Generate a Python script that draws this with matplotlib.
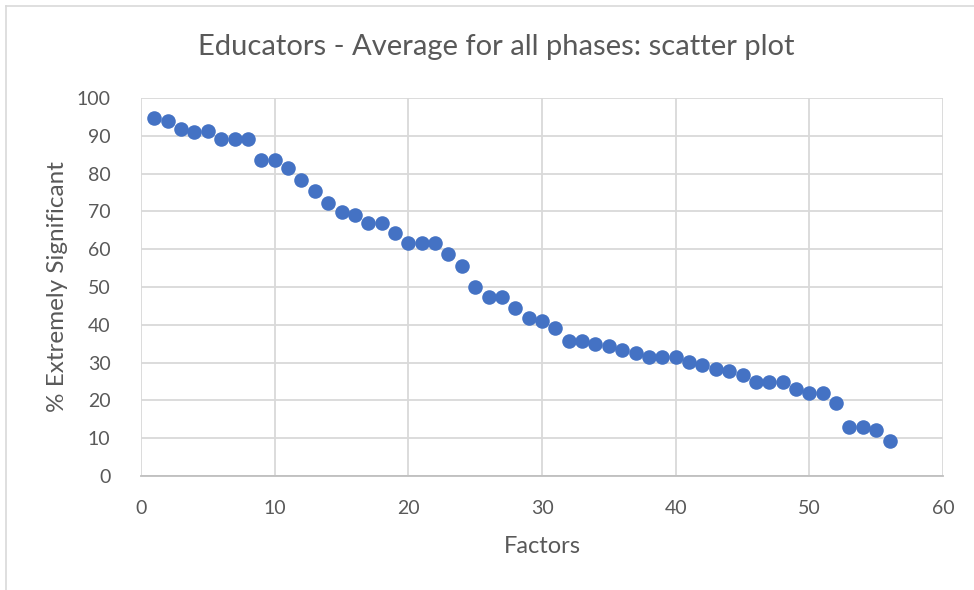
import matplotlib
matplotlib.use("Agg")
import matplotlib.pyplot as plt
from matplotlib.lines import Line2D

plt.rcParams['font.family'] = ['Lato', 'DejaVu Sans']

# Factor index and the share of educators rating each factor "extremely significant"
factors = list(range(1, 57))
pct_extremely_significant = [
    94.6, 94.0, 91.7, 91.0, 91.2, 89.1, 89.1, 89.1, 83.6, 83.6,
    81.5, 78.3, 75.3, 72.3, 69.8, 69.1, 66.9, 66.9, 64.4, 61.6,
    61.6, 61.6, 58.7, 55.6, 49.9, 47.3, 47.3, 44.4, 41.7, 41.1,
    39.1, 35.8, 35.8, 34.9, 34.4, 33.3, 32.6, 31.6, 31.6, 31.4,
    30.2, 29.3, 28.4, 27.7, 26.6, 24.9, 24.9, 24.9, 23.1, 22.0,
    22.0, 19.4, 12.9, 12.9, 12.2, 9.2,
]
x_ticks = [0, 10, 20, 30, 40, 50, 60]
y_ticks = [0, 10, 20, 30, 40, 50, 60, 70, 80, 90, 100]

W, H = 974, 590
fig = plt.figure(figsize=(W / 100, H / 100), dpi=100)
ax = fig.add_axes([141 / W, 1 - 476 / H, (943 - 141) / W, (476 - 98) / H])

text_col = '#595959'
grid_col = '#D9D9D9'

ax.scatter(factors, pct_extremely_significant, s=110, color='#4472C4',
           linewidths=0, zorder=3, clip_on=False)

ax.set_xlim(0, 60)
ax.set_ylim(0, 100)
ax.set_xticks(x_ticks)
ax.set_yticks(y_ticks)
ax.grid(True, color=grid_col, linewidth=1.3, zorder=0)
ax.set_axisbelow(True)
for side in ('top', 'right', 'left'):
    ax.spines[side].set_visible(False)
ax.spines['bottom'].set_color('#BFBFBF')
ax.spines['bottom'].set_linewidth(1.3)
ax.tick_params(length=0, labelsize=14, colors=text_col)
ax.tick_params(axis='y', pad=22)
ax.tick_params(axis='x', pad=17)

ax.set_xlabel('Factors', fontsize=17, color=text_col, labelpad=14)
ax.set_ylabel('% Extremely Significant', fontsize=17.5, color=text_col, labelpad=6)

fig.text(496 / W, 1 - 47 / H, 'Educators - Average for all phases: scatter plot',
         ha='center', va='center', fontsize=21, color=text_col)

# chart-area frame
fig.add_artist(Line2D([6 / W, 6 / W], [0, 1 - 6 / H], color='#D9D9D9', linewidth=1.2))
fig.add_artist(Line2D([6 / W, 1], [1 - 6 / H, 1 - 6 / H], color='#D9D9D9', linewidth=1.2))

fig.savefig('out.png', dpi=100, facecolor='white')
